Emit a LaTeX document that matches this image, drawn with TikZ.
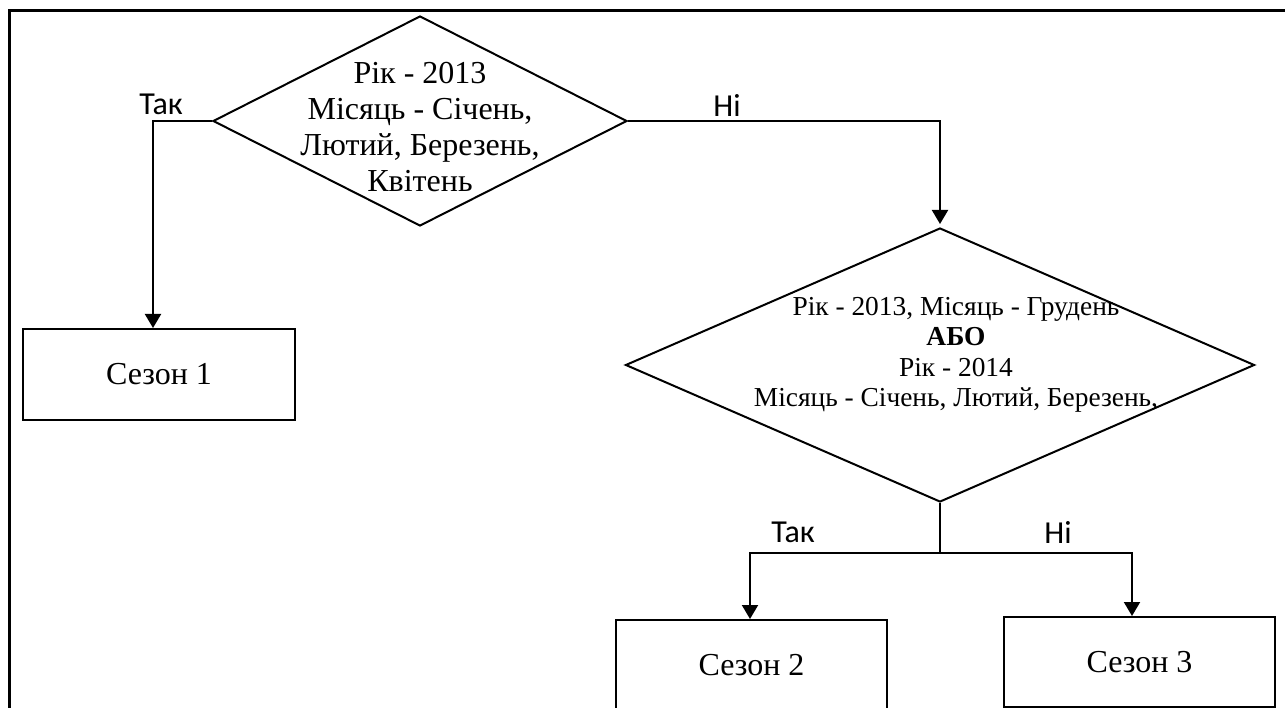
\documentclass[tikz,border=0pt]{standalone}
\usepackage{fontspec}
\setmainfont{Liberation Serif}
\newfontfamily\labelfont{Carlito}
\usetikzlibrary{shapes.geometric,arrows.meta}

\begin{document}
\begin{tikzpicture}[x=1pt,y=-1pt,
  line width=2pt,
  decision/.style={draw, diamond, inner sep=0pt},
  season/.style={draw, rectangle, inner sep=0pt, font=\fontsize{32}{37}\selectfont},
  lbl/.style={inner sep=0pt, font=\labelfont\fontsize{32}{37}\selectfont},
  arrow/.style={-{Triangle[length=14pt,width=16pt]}}
]
\clip (0,0) rectangle (1285,708);

% page frame: top and left rules
\draw[line width=3pt] (1285,11) -- (9.5,11) -- (9.5,708);

% first decision
\node[decision, minimum width=414pt, minimum height=210pt] (d1) at (420,121) {};
\node[font=\fontsize{32}{36}\selectfont, align=center, inner sep=0pt] (t1) at (420,127)
  {Рік - 2013\\Місяць - Січень,\\Лютий, Березень,\\Квітень};

% second decision
\node[decision, minimum width=629pt, minimum height=274pt] (d2) at (940,365) {};
\node[font=\fontsize{27.4}{30.5}\selectfont, align=center, inner sep=0pt] (t2) at (956,355)
  {Рік - 2013, Місяць - Грудень\\\textbf{АБО}\\Рік - 2014\\Місяць - Січень, Лютий, Березень,};

% outcomes
\node[season, minimum width=272pt, minimum height=91pt] (b1) at (159,374.5) {Сезон 1};
\node[season, minimum width=271pt, minimum height=90pt] (b2) at (751.5,665) {Сезон 2};
\node[season, minimum width=271pt, minimum height=90pt] (b3) at (1139.5,662) {Сезон 3};

% branch labels
\node[lbl] (yes1) at (161,104) {Так};
\node[lbl] (no1) at (727,105) {Ні};
\node[lbl] (yes2) at (793,532) {Так};
\node[lbl] (no2) at (1058,532) {Ні};

% connectors
\coordinate (c1) at (153,121);
\draw[arrow] (d1.west) -- (c1) -- (c1 |- b1.north);
\draw[arrow, shorten >=3pt] (d1.east) -| (d2.north);

\coordinate (j) at (940,553);
\coordinate (c2) at (750,553);
\coordinate (c3) at (1132,553);
\draw (d2.south) -- (j);
\draw[arrow] (j) -- (c2) -- (c2 |- b2.north);
\draw[arrow] (j) -- (c3) -- (c3 |- b3.north);
\end{tikzpicture}
\end{document}
